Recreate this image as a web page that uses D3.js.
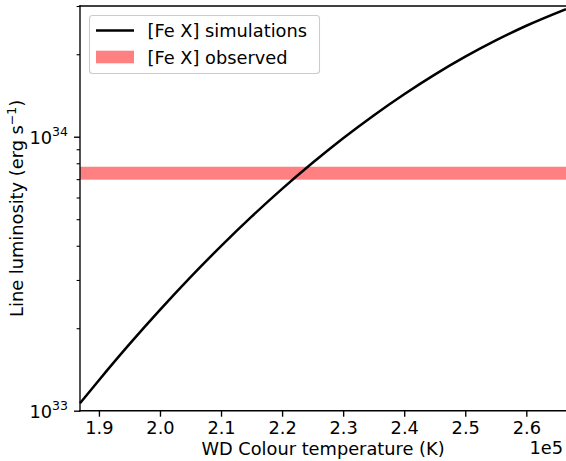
<!DOCTYPE html>
<html>
<head>
<meta charset="utf-8">
<script src="https://cdn.jsdelivr.net/npm/d3@7"></script>
<style>
  html, body { margin: 0; padding: 0; background: #fff; }
  svg { display: block; font-family: "DejaVu Sans", sans-serif; }
</style>
</head>
<body>
<svg id="chart" width="566" height="461"></svg>
<script>
// ---- data ----
const temperatures = [186900, 190000, 195000, 200000, 205000, 210000, 215000, 220000, 225000,
                      230000, 235000, 240000, 245000, 250000, 255000, 260000, 266500];
const simLuminosity = [1.064e33, 1.292e33, 1.749e33, 2.333e33, 3.072e33, 3.988e33, 5.107e33, 6.45e33, 8.03e33,
                       9.87e33, 1.196e34, 1.429e34, 1.685e34, 1.959e34, 2.246e34, 2.541e34, 2.922e34];
const observedLow = 6.97e33;
const observedHigh = 7.77e33;
const xTickValues = [190000, 200000, 210000, 220000, 230000, 240000, 250000, 260000];
const xTickLabels = ["1.9", "2.0", "2.1", "2.2", "2.3", "2.4", "2.5", "2.6"];
const yMajorTicks = [1e33, 1e34];
const yMajorExponents = ["33", "34"];
const yMinorTicks = [2e33, 3e33, 4e33, 5e33, 6e33, 7e33, 8e33, 9e33, 2e34, 3e34];
const yDomain = [1e33, 3e34];
const seriesNames = ["[Fe X] simulations", "[Fe X] observed"];
const xLabel = "WD Colour temperature (K)";
const offsetLabel = "1e5";

// ---- layout ----
const L = 80, R = 566, T = 6, B = 410.7;
const FS = 17.8, SUP = 12.5;
const svg = d3.select("#chart");

const x = d3.scaleLinear().domain([d3.min(temperatures), d3.max(temperatures)]).range([L, R]);
const y = d3.scaleLog().domain(yDomain).range([B, T]);

// observed band
svg.append("rect")
  .attr("x", L).attr("width", R - L)
  .attr("y", y(observedHigh)).attr("height", y(observedLow) - y(observedHigh))
  .attr("fill", "#ff8080");

// simulation curve
const line = d3.line().x((d, i) => x(temperatures[i])).y(d => y(d)).curve(d3.curveMonotoneX);
svg.append("path").datum(simLuminosity)
  .attr("d", line).attr("fill", "none")
  .attr("stroke", "#000").attr("stroke-width", 2.5)
  .attr("stroke-linejoin", "round").attr("stroke-linecap", "butt");

// x axis
const xAxis = d3.axisBottom(x).tickValues(xTickValues)
  .tickFormat((d, i) => xTickLabels[i]).tickSize(6).tickPadding(5).tickSizeOuter(0);
const gx = svg.append("g").attr("transform", `translate(0,${B})`).call(xAxis);
gx.select(".domain").remove();
gx.selectAll(".tick line").attr("stroke", "#000").attr("stroke-width", 1.36);
gx.selectAll(".tick text").attr("font-size", FS).attr("font-family", "DejaVu Sans").attr("fill", "#000");

// y axis minor
const yMinor = d3.axisLeft(y).tickValues(yMinorTicks).tickFormat("").tickSize(3.4).tickSizeOuter(0);
const gyMinor = svg.append("g").attr("transform", `translate(${L},0)`).call(yMinor);
gyMinor.select(".domain").remove();
gyMinor.selectAll(".tick line").attr("stroke", "#000").attr("stroke-width", 1.1);

// y axis major
const yMajor = d3.axisLeft(y).tickValues(yMajorTicks).tickFormat("").tickSize(6).tickSizeOuter(0);
const gy = svg.append("g").attr("transform", `translate(${L},0)`).call(yMajor);
gy.select(".domain").remove();
gy.selectAll(".tick line").attr("stroke", "#000").attr("stroke-width", 1.36);
gy.selectAll(".tick").each(function(d, i) {
  const t = d3.select(this).append("text")
    .attr("text-anchor", "end")
    .attr("font-size", FS).attr("font-family", "DejaVu Sans").attr("fill", "#000");
  t.attr("x", -12).attr("y", 6.5);
  t.append("tspan").text("10");
  t.append("tspan").attr("font-size", SUP).attr("dy", -7.5).text(yMajorExponents[i]);
});

// spines
svg.append("line").attr("x1", L).attr("x2", L).attr("y1", T).attr("y2", B)
  .attr("stroke", "#000").attr("stroke-width", 1.36).attr("stroke-linecap", "square");
svg.append("line").attr("x1", L).attr("x2", R).attr("y1", B).attr("y2", B)
  .attr("stroke", "#000").attr("stroke-width", 1.36).attr("stroke-linecap", "square");
svg.append("line").attr("x1", L).attr("x2", R).attr("y1", T).attr("y2", T)
  .attr("stroke", "#000").attr("stroke-width", 1.36).attr("stroke-linecap", "square");

// x label
svg.append("text").attr("x", (L + R) / 2).attr("y", 455).attr("text-anchor", "middle")
  .attr("font-size", FS).attr("fill", "#000").text(xLabel);
// offset text
svg.append("text").attr("x", 563).attr("y", 454).attr("text-anchor", "end")
  .attr("font-size", FS).attr("fill", "#000").text(offsetLabel);

// y label
const yl = svg.append("text")
  .attr("transform", `translate(23,${(T + B) / 2}) rotate(-90)`)
  .attr("text-anchor", "middle").attr("font-size", FS).attr("fill", "#000");
yl.append("tspan").text("Line luminosity (erg s");
yl.append("tspan").attr("font-size", SUP).attr("dy", -7.5).text("\u22121");
yl.append("tspan").attr("dy", 7.5).text(")");

// legend
const lg = svg.append("g");
lg.append("rect").attr("x", 89.5).attr("y", 15.5).attr("width", 230).attr("height", 58)
  .attr("rx", 3).attr("fill", "#fff").attr("fill-opacity", 0.8)
  .attr("stroke", "#cccccc").attr("stroke-width", 1.1);
lg.append("line").attr("x1", 96).attr("x2", 134).attr("y1", 30.5).attr("y2", 30.5)
  .attr("stroke", "#000").attr("stroke-width", 2.5);
lg.append("rect").attr("x", 96).attr("y", 50.7).attr("width", 38).attr("height", 12.6)
  .attr("fill", "#ff8080");
lg.append("text").attr("x", 147.5).attr("y", 37).attr("font-size", FS).attr("fill", "#000").text(seriesNames[0]);
lg.append("text").attr("x", 147.5).attr("y", 63.5).attr("font-size", FS).attr("fill", "#000").text(seriesNames[1]);
</script>
</body>
</html>
